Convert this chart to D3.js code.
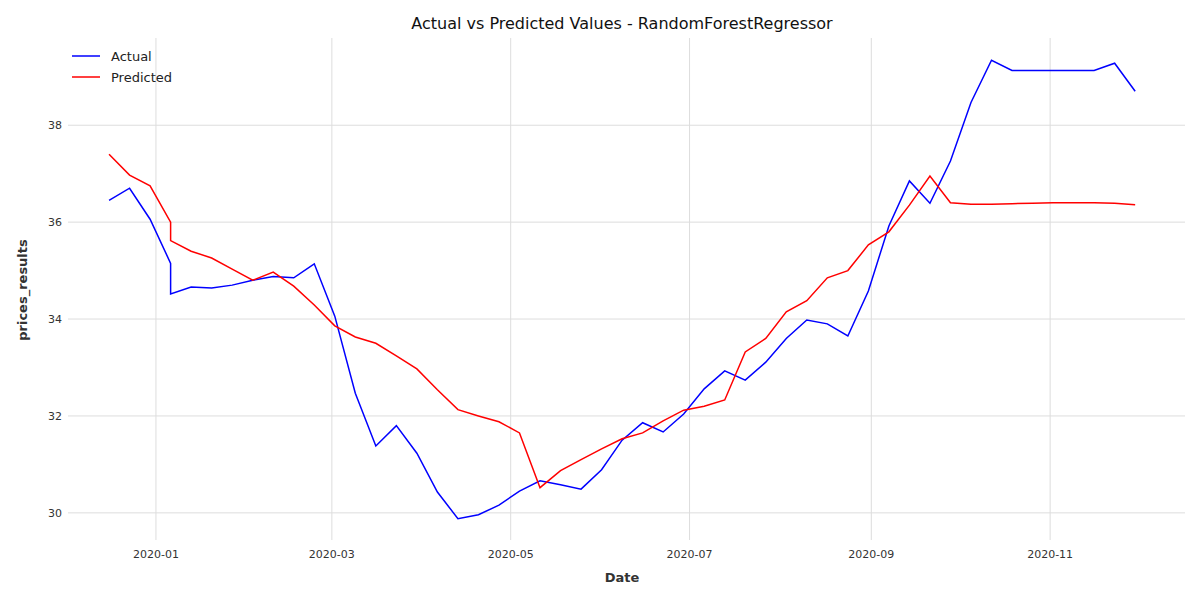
<!DOCTYPE html>
<html><head><meta charset="utf-8">
<script src="https://cdn.jsdelivr.net/npm/d3@7"></script>
<style>body{margin:0;background:#fff;font-family:"DejaVu Sans",sans-serif}</style>
</head><body><svg id="c" width="1200" height="600"></svg>
<script>
const dates = ["2019-12-16","2019-12-23","2019-12-30","2020-01-06","2020-01-06","2020-01-13","2020-01-20","2020-01-27","2020-02-03","2020-02-10","2020-02-17","2020-02-24","2020-03-02","2020-03-09","2020-03-16","2020-03-23","2020-03-30","2020-04-06","2020-04-13","2020-04-20","2020-04-27","2020-05-04","2020-05-11","2020-05-18","2020-05-25","2020-06-01","2020-06-08","2020-06-15","2020-06-22","2020-06-29","2020-07-06","2020-07-13","2020-07-20","2020-07-27","2020-08-03","2020-08-10","2020-08-17","2020-08-24","2020-08-31","2020-09-07","2020-09-14","2020-09-21","2020-09-28","2020-10-05","2020-10-12","2020-10-19","2020-10-26","2020-11-02","2020-11-09","2020-11-16","2020-11-23","2020-11-30"];
const actual = [36.45,36.7,36.06,35.15,34.52,34.66,34.64,34.7,34.8,34.88,34.85,35.14,34.06,32.47,31.38,31.8,31.23,30.43,29.88,29.96,30.16,30.45,30.66,30.58,30.49,30.89,31.5,31.86,31.67,32.04,32.56,32.93,32.74,33.11,33.6,33.98,33.9,33.65,34.58,35.92,36.85,36.39,37.26,38.47,39.34,39.13,39.13,39.13,39.13,39.13,39.28,38.7];
const predicted = [37.4,36.97,36.75,36.0,35.62,35.4,35.26,35.03,34.8,34.97,34.68,34.29,33.86,33.63,33.5,33.24,32.97,32.54,32.13,32.0,31.88,31.65,30.52,30.87,31.1,31.32,31.53,31.65,31.9,32.12,32.2,32.33,33.32,33.6,34.15,34.38,34.85,35.0,35.53,35.8,36.35,36.95,36.4,36.37,36.37,36.38,36.39,36.4,36.4,36.4,36.39,36.36];
const yTicks = [30,32,34,36,38];
const xTicks = ["2020-01-01","2020-03-01","2020-05-01","2020-07-01","2020-09-01","2020-11-01"];

const svg = d3.select("#c");
const L=68,R=1185,T=38,B=540;
const p = d3.utcParse("%Y-%m-%d");
const x = d3.scaleUtc().domain([p("2019-12-02"),p("2020-12-17")]).range([L,R]);
const y = d3.scaleLinear().domain([29.44,39.8]).range([B,T]);

const g = svg.append("g");
g.selectAll(".gx").data(xTicks).join("line").attr("x1",d=>x(p(d))).attr("x2",d=>x(p(d))).attr("y1",T).attr("y2",B).attr("stroke","#dddddd");
g.selectAll(".gy").data(yTicks).join("line").attr("y1",d=>y(d)).attr("y2",d=>y(d)).attr("x1",L).attr("x2",R).attr("stroke","#dddddd");
g.selectAll(".tx").data(xTicks).join("text").attr("x",d=>x(p(d))).attr("y",B+18).attr("text-anchor","middle").attr("font-size",11).attr("fill","#333").text(d=>d.slice(0,7));
g.selectAll(".ty").data(yTicks).join("text").attr("x",L-6).attr("y",d=>y(d)+4).attr("text-anchor","end").attr("font-size",11).attr("fill","#333").text(d=>d);

const line = vals => d3.line().x((d,i)=>x(p(dates[i]))).y(d=>y(d))(vals);
svg.append("path").attr("d",line(actual)).attr("fill","none").attr("stroke","#0000ff").attr("stroke-width",1.5);
svg.append("path").attr("d",line(predicted)).attr("fill","none").attr("stroke","#ff0000").attr("stroke-width",1.5);

svg.append("text").attr("x",622).attr("y",29).attr("text-anchor","middle").attr("font-size",16).attr("fill","#111").text("Actual vs Predicted Values - RandomForestRegressor");
svg.append("text").attr("x",622).attr("y",582).attr("text-anchor","middle").attr("font-size",13).attr("font-weight","bold").attr("fill","#333").text("Date");
svg.append("text").attr("transform","translate(27,290) rotate(-90)").attr("text-anchor","middle").attr("font-size",13).attr("font-weight","bold").attr("fill","#333").text("prices_results");

const leg=[["Actual","#0000ff"],["Predicted","#ff0000"]];
leg.forEach((d,i)=>{
  svg.append("line").attr("x1",72).attr("x2",100).attr("y1",56+i*21).attr("y2",56+i*21).attr("stroke",d[1]).attr("stroke-width",1.5);
  svg.append("text").attr("x",111).attr("y",61+i*21).attr("font-size",13).attr("fill","#222").text(d[0]);
});
</script></body></html>
